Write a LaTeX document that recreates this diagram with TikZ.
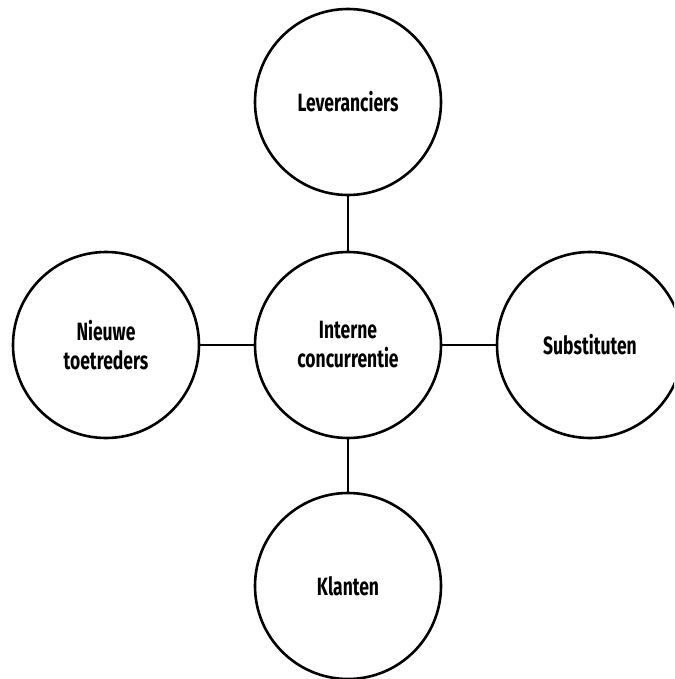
\documentclass[tikz,border=0pt]{standalone}
\usepackage{fontspec}
\setmainfont{Fira Sans}[FakeStretch=0.7]
\begin{document}
\begin{tikzpicture}[x=1pt,y=-1pt,
  force/.style={circle,draw=black,line width=2.6pt,minimum size=186pt,inner sep=0pt,
    align=center,font=\fontsize{25}{29}\selectfont\bfseries},
  link/.style={line width=2.6pt,draw=black}]
\useasboundingbox (0,0) rectangle (674,679);
\begin{scope}
\clip (0,0) rectangle (674,679);
\node[force] (top) at (348,102) {Leveranciers};
\node[force] (mid) at (348,345) {Interne\\concurrentie};
\node[force] (left) at (106,345) {Nieuwe\\toetreders};
\node[force] (right) at (590,345) {Substituten};
\node[force] (bot) at (348,586) {Klanten};
\draw[link] (top) -- (mid);
\draw[link] (mid) -- (bot);
\draw[link] (left) -- (mid);
\draw[link] (mid) -- (right);
\end{scope}
\end{tikzpicture}
\end{document}
